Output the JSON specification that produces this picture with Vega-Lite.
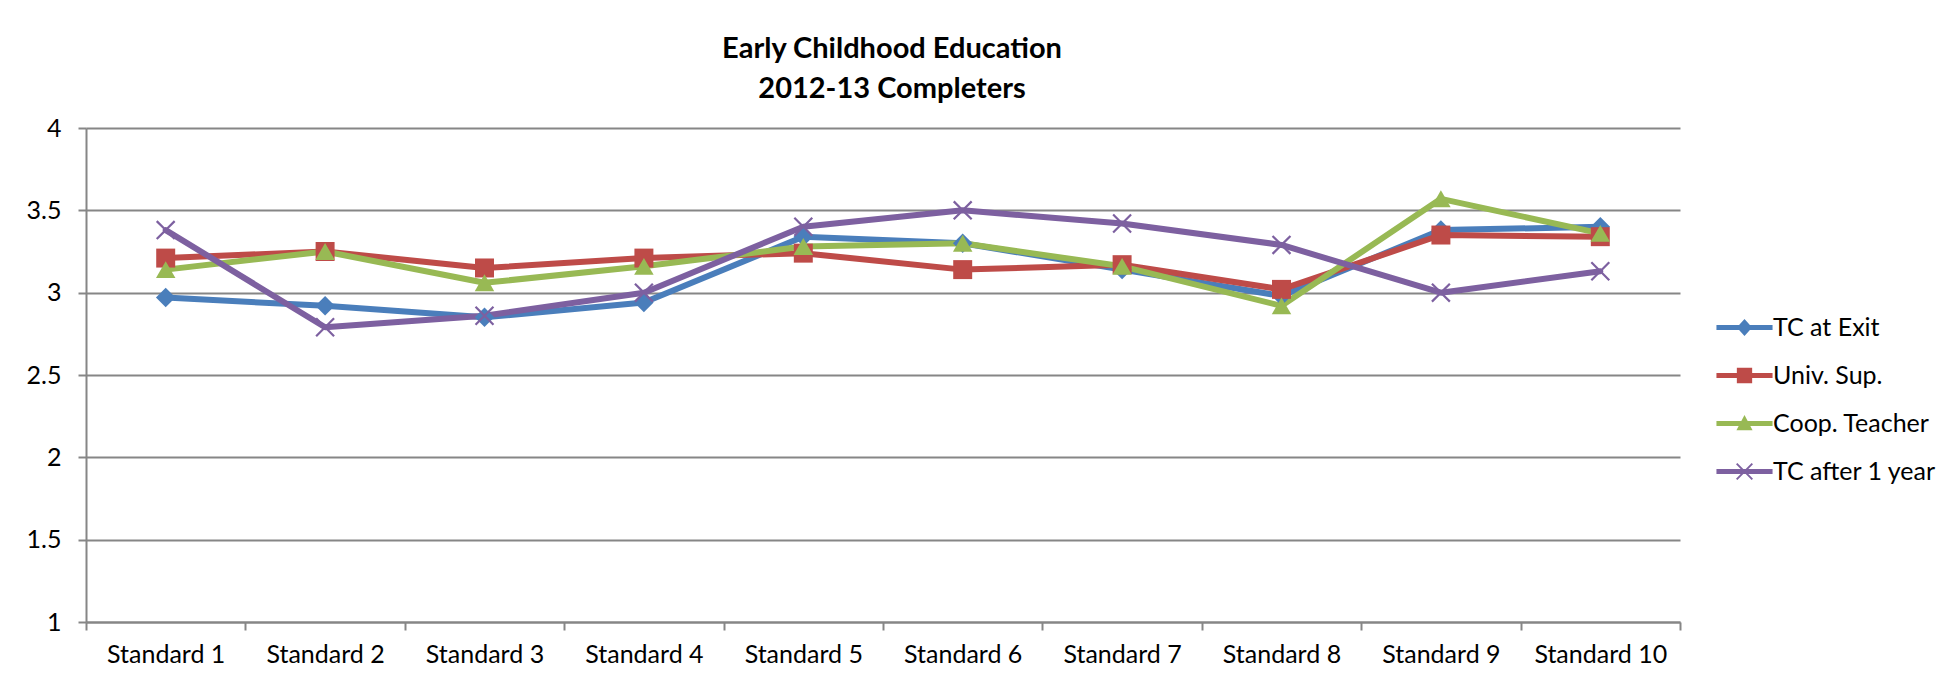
{
  "$schema": "https://vega.github.io/schema/vega-lite/v6.json",
  "autosize": {"type": "none"},
  "padding": {"left": 86, "top": 128, "right": 262, "bottom": 59},
  "width": 1594,
  "height": 494,
  "background": "white",
  "config": {
    "view": {"stroke": null},
    "font": "Lato",
    "axis": {"labelFont": "Lato", "labelFontSize": 25, "labelColor": "#000000", "domainColor": "#868686", "domainWidth": 2, "tickColor": "#868686", "tickWidth": 2, "tickSize": 8, "title": null}
  },
  "title": {
    "text": ["Early Childhood Education", "2012-13 Completers"],
    "font": "Lato",
    "fontSize": 29,
    "fontWeight": "bold",
    "lineHeight": 40,
    "color": "#000000",
    "anchor": "middle",
    "dx": 9,
    "offset": 12
  },
  "data": {
    "values": [
      {"std": "Standard 1", "series": "TC at Exit", "v": 2.97},
      {"std": "Standard 1", "series": "Univ. Sup.", "v": 3.21},
      {"std": "Standard 1", "series": "Coop. Teacher", "v": 3.14},
      {"std": "Standard 1", "series": "TC after 1 year", "v": 3.38},
      {"std": "Standard 2", "series": "TC at Exit", "v": 2.92},
      {"std": "Standard 2", "series": "Univ. Sup.", "v": 3.25},
      {"std": "Standard 2", "series": "Coop. Teacher", "v": 3.25},
      {"std": "Standard 2", "series": "TC after 1 year", "v": 2.79},
      {"std": "Standard 3", "series": "TC at Exit", "v": 2.85},
      {"std": "Standard 3", "series": "Univ. Sup.", "v": 3.15},
      {"std": "Standard 3", "series": "Coop. Teacher", "v": 3.06},
      {"std": "Standard 3", "series": "TC after 1 year", "v": 2.86},
      {"std": "Standard 4", "series": "TC at Exit", "v": 2.94},
      {"std": "Standard 4", "series": "Univ. Sup.", "v": 3.21},
      {"std": "Standard 4", "series": "Coop. Teacher", "v": 3.16},
      {"std": "Standard 4", "series": "TC after 1 year", "v": 3.0},
      {"std": "Standard 5", "series": "TC at Exit", "v": 3.34},
      {"std": "Standard 5", "series": "Univ. Sup.", "v": 3.24},
      {"std": "Standard 5", "series": "Coop. Teacher", "v": 3.28},
      {"std": "Standard 5", "series": "TC after 1 year", "v": 3.4},
      {"std": "Standard 6", "series": "TC at Exit", "v": 3.3},
      {"std": "Standard 6", "series": "Univ. Sup.", "v": 3.14},
      {"std": "Standard 6", "series": "Coop. Teacher", "v": 3.3},
      {"std": "Standard 6", "series": "TC after 1 year", "v": 3.5},
      {"std": "Standard 7", "series": "TC at Exit", "v": 3.14},
      {"std": "Standard 7", "series": "Univ. Sup.", "v": 3.17},
      {"std": "Standard 7", "series": "Coop. Teacher", "v": 3.16},
      {"std": "Standard 7", "series": "TC after 1 year", "v": 3.42},
      {"std": "Standard 8", "series": "TC at Exit", "v": 2.98},
      {"std": "Standard 8", "series": "Univ. Sup.", "v": 3.02},
      {"std": "Standard 8", "series": "Coop. Teacher", "v": 2.92},
      {"std": "Standard 8", "series": "TC after 1 year", "v": 3.29},
      {"std": "Standard 9", "series": "TC at Exit", "v": 3.38},
      {"std": "Standard 9", "series": "Univ. Sup.", "v": 3.35},
      {"std": "Standard 9", "series": "Coop. Teacher", "v": 3.57},
      {"std": "Standard 9", "series": "TC after 1 year", "v": 3.0},
      {"std": "Standard 10", "series": "TC at Exit", "v": 3.4},
      {"std": "Standard 10", "series": "Univ. Sup.", "v": 3.34},
      {"std": "Standard 10", "series": "Coop. Teacher", "v": 3.36},
      {"std": "Standard 10", "series": "TC after 1 year", "v": 3.13}
    ]
  },
  "encoding": {
    "x": {
      "field": "std",
      "type": "nominal",
      "bandPosition": 0.5,
      "scale": {"type": "band", "paddingInner": 0, "paddingOuter": 0, "domain": ["Standard 1", "Standard 2", "Standard 3", "Standard 4", "Standard 5", "Standard 6", "Standard 7", "Standard 8", "Standard 9", "Standard 10"]},
      "axis": {"labelAngle": 0, "tickBand": "extent", "labelPadding": 12, "grid": false}
    },
    "y": {
      "field": "v",
      "type": "quantitative",
      "scale": {"domain": [1, 4], "nice": false, "zero": false},
      "axis": {"values": [1, 1.5, 2, 2.5, 3, 3.5, 4], "format": "~g", "grid": true, "gridColor": "#868686", "gridWidth": 2, "labelPadding": 17}
    },
    "color": {
      "field": "series",
      "type": "nominal",
      "scale": {"domain": ["TC at Exit", "Univ. Sup.", "Coop. Teacher", "TC after 1 year"], "range": ["#4A7EBB", "#BE4B48", "#98B954", "#7D60A0"]},
      "legend": {
        "title": null,
        "orient": "none",
        "legendX": 1646,
        "legendY": 187,
        "padding": 0,
        "labelFont": "Lato",
        "labelFontSize": 25,
        "labelColor": "#000000",
        "labelOffset": 16,
        "labelLimit": 400,
        "rowPadding": 22,
        "symbolSize": 289,
        "symbolStrokeWidth": 0,
        "encode": {
          "symbols": {
            "update": {
              "shape": {"signal": "datum.value === 'TC at Exit' ? 'M-3.3,-0.3H3.3V0.3H-3.3Z M0,-1L0.9,0L0,1L-0.9,0Z' : datum.value === 'Univ. Sup.' ? 'M-3.3,-0.3H3.3V0.3H-3.3Z M-0.9,-0.9H0.9V0.9H-0.9Z' : datum.value === 'Coop. Teacher' ? 'M-3.3,-0.3H3.3V0.3H-3.3Z M0,-1L0.95,0.8H-0.95Z' : 'M-3.3,-0.3H3.3V0.3H-3.3Z M-1,-0.84L-0.84,-1L0,-0.16L0.84,-1L1,-0.84L0.16,0L1,0.84L0.84,1L0,0.16L-0.84,1L-1,0.84L-0.16,0Z'"},
              "fill": {"scale": "color", "field": "value"},
              "stroke": {"value": "transparent"},
              "strokeWidth": {"value": 0},
              "size": {"value": 289},
              "opacity": {"value": 1}
            }
          }
        }
      }
    }
  },
  "layer": [
    {
      "mark": {"type": "line", "strokeWidth": 6, "strokeJoin": "round", "strokeCap": "round"}
    },
    {
      "transform": [{"filter": "datum.series === 'TC at Exit'"}],
      "mark": {"type": "point", "filled": true, "size": 380, "opacity": 1, "shape": "diamond"}
    },
    {
      "transform": [{"filter": "datum.series === 'Univ. Sup.'"}],
      "mark": {"type": "point", "filled": true, "size": 360, "opacity": 1, "shape": "square"}
    },
    {
      "transform": [{"filter": "datum.series === 'Coop. Teacher'"}],
      "mark": {"type": "point", "filled": true, "size": 380, "opacity": 1, "shape": "triangle-up"}
    },
    {
      "transform": [{"filter": "datum.series === 'TC after 1 year'"}],
      "mark": {"type": "point", "filled": true, "size": 380, "opacity": 1, "shape": "M-1,-0.84L-0.84,-1L0,-0.16L0.84,-1L1,-0.84L0.16,0L1,0.84L0.84,1L0,0.16L-0.84,1L-1,0.84L-0.16,0Z"}
    }
  ]
}
